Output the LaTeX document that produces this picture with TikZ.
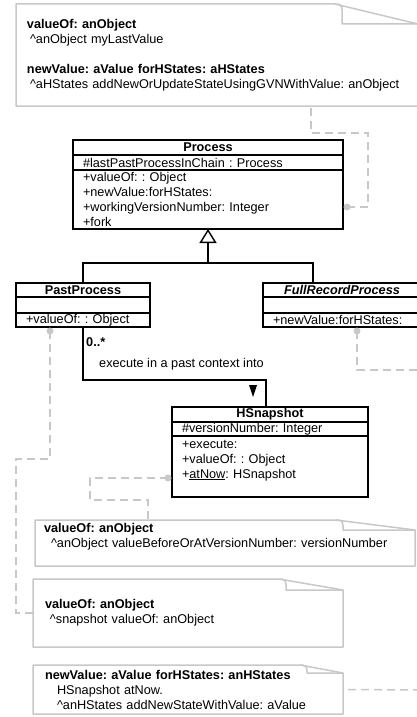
\documentclass[tikz,border=0pt]{standalone}
\usepackage{fontspec}
\setmainfont{Liberation Sans}
\usetikzlibrary{positioning,calc,arrows.meta}
\frenchspacing

\definecolor{notegray}{RGB}{200,200,200}
\newcommand\umlfont{\fontsize{12.7}{15}\selectfont}

\tikzset{
  classbox/.style={draw, line width=1.4pt, inner xsep=10pt, inner ysep=0pt, outer sep=0pt, font=\umlfont},
  classname/.style={classbox, align=center, font=\umlfont\bfseries},
  classrows/.style={classbox, align=left},
  notetext/.style={anchor=north west, inner ysep=0pt, outer sep=0pt, align=left, font=\umlfont},
  noteedge/.style={notegray, line width=1.5pt, line join=round},
  noteline/.style={notegray, line width=1.5pt, dash pattern=on 8pt off 5pt},
  notedot/.style={fill=notegray},
  umlline/.style={line width=1.4pt},
}

% note outline: node, fold width, fold depth
\newcommand\noteoutline[3]{%
  \draw[noteedge] ($(#1.north east)+(-#2,0)$) -- (#1.north west) -- (#1.south west)
    -- (#1.south east) -- ($(#1.north east)+(0,#3)$) -- cycle;
  \draw[noteedge] ($(#1.north east)+(-#2,0)$)
    .. controls ($(#1.north east)+(-#2+5,0)$) and ($(#1.north east)+(-#2+7,1)$) .. ($(#1.north east)+(-#2+7,6)$)
    -- ($(#1.north east)+(-#2+7,#3)$) -- ($(#1.north east)+(0,#3)$);
}

\begin{document}
\begin{tikzpicture}[x=1pt,y=-1pt]
  \useasboundingbox (0,0) rectangle (417,717);

  % notes
  \node[notetext, inner xsep=11pt, text width=380pt, minimum height=102pt] (topnote) at (16,4)
    {{\bfseries valueOf: anObject}\\
     \hspace{3pt}\textasciicircum anObject myLastValue\\
     \mbox{}\\
     {\bfseries newValue: aValue forHStates: aHStates}\\
     \mbox{\hspace{3pt}\textasciicircum aHStates addNewOrUpdateStateUsingGVNWithValue: anObject}};
  \noteoutline{topnote}{83}{20}

  \node[notetext, inner xsep=9pt, text width=362pt, minimum height=46pt] (hsnote) at (35,520)
    {{\bfseries valueOf: anObject}\\
     \mbox{\hspace{7pt}\textasciicircum anObject valueBeforeOrAtVersionNumber: versionNumber}\\
     \mbox{}};
  \noteoutline{hsnote}{79}{10}

  \node[notetext, inner xsep=12pt, text width=286pt, minimum height=68pt] (pastnote) at (33,579)
    {{\bfseries valueOf: anObject}\\
     \hspace{5pt}\textasciicircum snapshot valueOf: anObject};
  \noteoutline{pastnote}{64}{11}

  \node[notetext, inner xsep=12pt, text width=286pt, minimum height=49pt] (fullnote) at (33,665)
    {{\bfseries newValue: aValue forHStates: anHStates}\\
     \hspace{12pt}HSnapshot atNow.\\
     \hspace{12pt}\textasciicircum anHStates addNewStateWithValue: aValue};
  \noteoutline{fullnote}{43}{8}

  % classes
  \node[classname, text width=250pt, minimum height=15pt] (process) at (208,147.5) {Process};
  \node[classrows, text width=250pt, minimum height=15pt, below=0pt of process] (process-attrs)
    {\#lastPastProcessInChain : Process};
  \node[classrows, text width=250pt, minimum height=59pt, below=0pt of process-attrs] (process-ops)
    {+valueOf: : Object\\+newValue:forHStates:\\+workingVersionNumber: Integer\\+fork};

  \node[classname, text width=114pt, minimum height=14pt] (pastprocess) at (83,290) {PastProcess};
  \node[classrows, text width=114pt, minimum height=16pt, below=0pt of pastprocess] (pastprocess-attrs) {};
  \node[classrows, text width=114pt, minimum height=14pt, below=0pt of pastprocess-attrs] (pastprocess-ops)
    {+valueOf: : Object};

  \node[classname, text width=138pt, minimum height=14pt] (fullrecord) at (342,290) {\textit{FullRecordProcess}};
  \node[classrows, text width=138pt, minimum height=16pt, below=0pt of fullrecord] (fullrecord-attrs) {};
  \node[classrows, text width=138pt, minimum height=14pt, below=0pt of fullrecord-attrs] (fullrecord-ops)
    {+newValue:forHStates:};

  \node[classname, text width=176pt, minimum height=15pt] (hsnapshot) at (270,414.5) {HSnapshot};
  \node[classrows, text width=176pt, minimum height=14pt, below=0pt of hsnapshot] (hsnapshot-attrs)
    {\#versionNumber: Integer};
  \node[classrows, text width=176pt, minimum height=61pt, below=0pt of hsnapshot-attrs] (hsnapshot-ops)
    {+execute:\\+valueOf: : Object\\+\underline{atNow}: HSnapshot\\\mbox{}};

  % generalization
  \coordinate (branch) at (208,263);
  \draw[umlline] (pastprocess.north) |- (branch) -| ($(fullrecord.north west)+(50,0)$);
  \draw[umlline, -{Triangle[open, length=14pt, width=17pt]}] (branch) -- (process-ops.south);

  % association
  \draw[umlline] (pastprocess-ops.south) -- ++(0,53) -| ($(hsnapshot.north)+(-4,0)$);
  \fill (249,385) -- (257,385) -- (253,397) -- cycle;
  \node[anchor=west, inner sep=1pt, font=\umlfont\bfseries] (multiplicity) at (85,342) {0..*};
  \node[anchor=west, inner sep=1pt, font=\umlfont] (assocname) at (98,364) {execute in a past context into};

  % note links
  \coordinate (processdot) at (347,207);
  \coordinate (pastdot) at (50,331);
  \coordinate (fulldot) at (357,331);
  \coordinate (hsdot) at (168,478);
  \coordinate (offright1) at (420,370);
  \coordinate (offright2) at (420,690);
  \draw[noteline] (processdot) -| (368,133) -| ($(topnote.south west)+(295,0)$);
  \draw[noteline] (pastdot) |- (16,459) |- (pastnote.west);
  \draw[noteline] (fulldot) |- (offright1);
  \draw[noteline] (hsdot) -| (90,500) -| ($(hsnote.north west)+(113,0)$);
  \draw[noteline, dash phase=8pt] (fullnote.east) -- (offright2);
  \foreach \d in {processdot,pastdot,fulldot,hsdot}
    \fill[notedot] (\d) circle (3.5);
\end{tikzpicture}
\end{document}
